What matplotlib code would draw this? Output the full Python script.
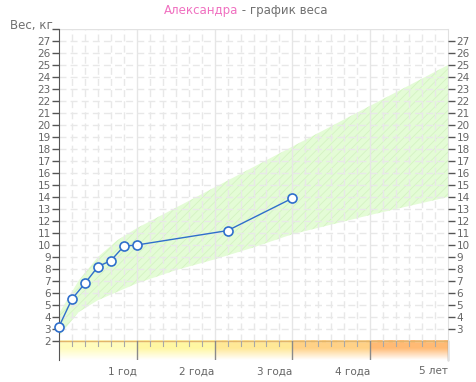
import numpy as np
import matplotlib
matplotlib.use("Agg")
import matplotlib.pyplot as plt
from matplotlib.colors import to_rgb

plt.rcParams["hatch.linewidth"] = 0.6

# measured weights (age in months, kg)
age_months = [0, 2, 4, 6, 8, 10, 12, 26, 36]
weight_kg = [3.2, 5.5, 6.8, 8.2, 8.7, 9.9, 10.0, 11.2, 13.9]

# normal range band (age in years)
band_age = [0, 0.25, 0.5, 0.75, 1.0, 1.5, 2.0, 2.5, 3.0, 4.0, 5.0]
band_low = [2.4, 4.4, 5.4, 6.1, 6.8, 7.9, 8.8, 9.8, 10.9, 12.5, 14.0]
band_high = [4.3, 7.0, 9.0, 10.4, 11.4, 13.1, 14.8, 16.5, 18.2, 21.6, 25.0]

year_labels = ["1 год", "2 года", "3 года", "4 года", "5 лет"]
child_name = "Александра"

W, H = 476, 382
fig = plt.figure(figsize=(W / 100, H / 100), dpi=100)
ax = fig.add_axes([59 / W, (H - 360.2) / H, 389 / W, 331.2 / H])
ax.set_xlim(0, 5)
ax.set_ylim(0.4, 28)

grey = "#666666"
gridc = "#e8e8e8"

# grid
for v in np.arange(2, 28):
    ax.axhline(v, color=gridc, lw=1, ls=(0, (5, 3)), zorder=1)
for m in range(2, 60, 2):
    if m % 12 == 0:
        ax.axvline(m / 12, ymin=(2 - 0.4) / 27.6, color="#e6e6e6", lw=1, zorder=1)
    else:
        ax.axvline(m / 12, ymin=(2 - 0.4) / 27.6, color=gridc, lw=1, ls=(0, (5, 3)), zorder=1)

# normal band
ax.fill_between(band_age, band_low, band_high, facecolor="#e4fcd6", edgecolor="#d4f3c2",
                hatch="////", lw=0, zorder=0.5)

# gradient strip under the plot, one shade per year
year_cols = ["#fffcbc", "#fff7a2", "#ffe896", "#ffd186", "#ffba74"]
nx, ny = 500, 60
xs = np.linspace(0, 5, nx, endpoint=False)
img = np.ones((ny, nx, 4))
for j, x in enumerate(xs):
    img[:, j, :3] = to_rgb(year_cols[int(x)])
t = np.linspace(0, 1, ny)[:, None]
img[:, :, 3] = np.clip((1 - t) / 0.6, 0, 1)
ax.imshow(img, extent=(0, 5, 0.4, 2), aspect="auto", origin="upper", zorder=0.6,
          interpolation="nearest")
ax.axhline(2, color="#e2b46a", lw=1, zorder=2)
for m in range(2, 60, 2):
    if m % 12 == 0:
        ax.plot([m / 12, m / 12], [0.4, 2], color="#8a8a8a", lw=1, zorder=2)
    else:
        ax.plot([m / 12, m / 12], [1.55, 2], color="#a8a8a8", lw=0.8, zorder=2)

# data
ax.plot(np.array(age_months) / 12, weight_kg, color="#2f6fcc", lw=1, marker="o",
        ms=6.5, mfc="white", mec="#2f6fcc", mew=1.2, zorder=5, clip_on=False)

# spines
for s in ["top", "bottom"]:
    ax.spines[s].set_visible(False)
ax.axhline(28, color="#e2e2e2", lw=1, zorder=2)
ax.spines["left"].set_color("#555555")
ax.spines["right"].set_color("#e0e0e0")
ax.plot([5, 5], [0.4, 2], color="#8a8a8a", lw=1, zorder=2, clip_on=False)

ax.set_xticks([])
ax.set_yticks(range(2, 29))
ax.set_yticklabels([str(v) for v in range(2, 28)] + [""])
ax.tick_params(axis="y", length=5, width=1, color="#555555", labelcolor=grey,
               labelsize=7.5, pad=1)

ax2 = ax.twinx()
ax2.set_ylim(ax.get_ylim())
ax2.set_yticks(range(3, 28))
ax2.tick_params(axis="y", length=5, width=1, color="#555555", labelcolor=grey,
                labelsize=7.5, pad=1)
for s in ax2.spines.values():
    s.set_visible(False)

for i, lab in enumerate(year_labels):
    ax.text(i + 1, -0.1, lab, ha="right", va="top", fontsize=7.5, color=grey)

fig.text(0.5, 0.973, child_name, ha="right", va="center", fontsize=8.5, color="#f070c0")
fig.text(0.5, 0.973, " - график веса", ha="left", va="center", fontsize=8.5, color="#707070")
fig.text(10 / W, 1 - 25 / H, "Вес, кг", ha="left", va="center", fontsize=8.5, color="#707070")

fig.savefig("out.png", dpi=100)
